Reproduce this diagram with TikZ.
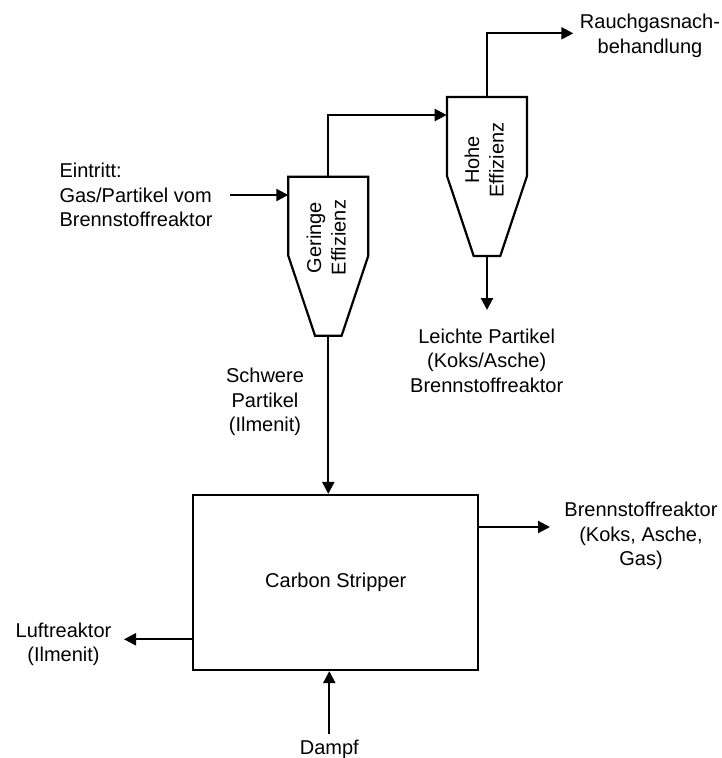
\documentclass[tikz,border=0pt]{standalone}
\usepackage{fontspec}
\setmainfont{Liberation Sans}
\usetikzlibrary{arrows.meta}
\begin{document}
\begin{tikzpicture}[x=1pt,y=-1pt,
  flow/.style={line width=2.2pt, -{Triangle[length=12pt,width=12pt]}},
  unitline/.style={line width=2.2pt, line join=miter},
  lbl/.style={inner sep=0pt, align=center, font=\fontsize{20}{24.5}\selectfont},
  cyclone/.pic={\draw[unitline] (-40,0) -- (40,0) -- (40,79) -- (13.3,159) -- (-13.3,159) -- (-40,79) -- cycle;}
  ]
\useasboundingbox (0,0) rectangle (722,758);
% cyclone reference points
\coordinate (gtop) at (328.3,176.7);
\coordinate (gbot) at (328.3,335.7);
\coordinate (htop) at (487,97);
\coordinate (hbot) at (487,256);
\coordinate (gin) at (288.3,195);
\coordinate (hin) at (446.7,115);
\pic at (gtop) {cyclone};
\pic at (htop) {cyclone};
% free ends
\coordinate (inlet) at (230,195);
\coordinate (rauchout) at (573.3,33.3);
\coordinate (leichteout) at (487,310);
\coordinate (brout) at (550,527);
\coordinate (luftout) at (124,639.3);
\coordinate (dampfin) at (329.3,734);
% main unit
\node[draw, line width=2.2pt, minimum width=285pt, minimum height=175pt, inner sep=0pt,
      font=\fontsize{20}{24.5}\selectfont] (box) at (335.8,582.5) {Carbon Stripper};
% labels
\node[lbl, rotate=90] (geringe) at (326.2,237.5) {Geringe\\Effizienz};
\node[lbl, rotate=90] (hohe) at (484.2,160) {Hohe\\Effizienz};
\node[lbl] (rauch) at (650,35.6) {Rauchgasnach-\\behandlung};
\node[lbl, align=left, anchor=west] (eintritt) at (59.3,195) {Eintritt:\\Gas/Partikel vom\\Brennstoffreaktor};
\node[lbl] (leichte) at (486.7,360.5) {Leichte Partikel\\(Koks/Asche)\\Brennstoffreaktor};
\node[lbl] (schwere) at (265,402) {Schwere\\Partikel\\(Ilmenit)};
\node[lbl] (brenn) at (641,536.3) {Brennstoffreaktor\\(Koks, Asche,\\Gas)};
\node[lbl] (luft) at (63.5,644.3) {Luftreaktor\\(Ilmenit)};
\node[lbl] (dampf) at (329.3,749) {Dampf};
% connectors
\draw[flow] (inlet) -- (gin);
\draw[flow] (gtop) |- (hin);
\draw[flow] (htop) |- (rauchout);
\draw[flow] (hbot) -- (leichteout);
\draw[flow] (gbot) -- (gbot |- box.north);
\draw[flow] (box.east |- brout) -- (brout);
\draw[flow] (box.west |- luftout) -- (luftout);
\draw[flow] (dampfin) -- (dampfin |- box.south);
\end{tikzpicture}
\end{document}
